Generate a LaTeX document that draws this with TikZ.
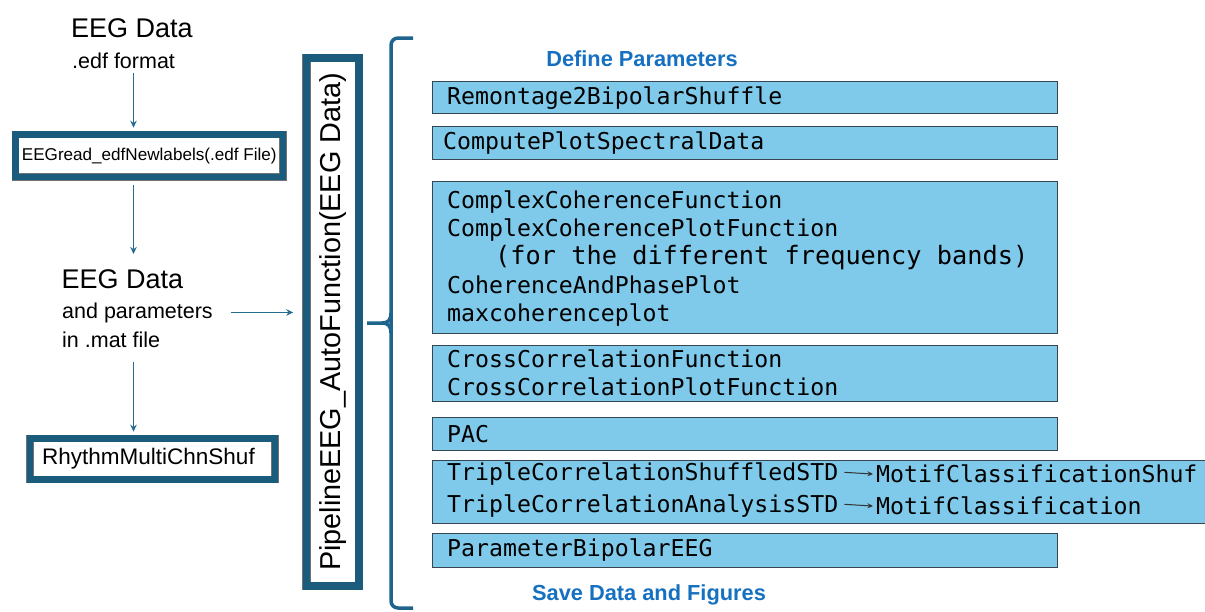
\documentclass[tikz,border=0pt]{standalone}
\usepackage{fontspec}
\setmainfont{Liberation Sans}
\newfontfamily\codefont{DejaVu Sans Mono}
\usetikzlibrary{arrows.meta}

\definecolor{frame}{RGB}{27,91,123}
\definecolor{link}{RGB}{38,108,143}
\definecolor{bracec}{RGB}{30,100,140}
\definecolor{stepfill}{RGB}{127,201,234}
\definecolor{stepline}{RGB}{55,70,80}
\definecolor{headblue}{RGB}{22,112,192}

\begin{document}
\begin{tikzpicture}[x=1pt,y=-1pt,
  framed/.style={rectangle, draw=black!55, line width=0.6pt, double=frame,
    double distance=6.5pt, fill=white, inner sep=0pt},
  stepbox/.style={rectangle, draw=stepline, line width=1pt, fill=stepfill,
    inner sep=0pt, minimum width=625pt},
  code/.style={font=\codefont\fontsize{23.2}{28.3}\selectfont, anchor=west,
    inner sep=0pt, align=left},
  label/.style={anchor=base west, inner sep=0pt},
  big/.style={font=\fontsize{27}{32}\selectfont},
  small/.style={font=\fontsize{21.5}{26}\selectfont},
  heading/.style={font=\bfseries\fontsize{21.8}{26}\selectfont, text=headblue, inner sep=0pt},
  flow/.style={draw=link, line width=1.5pt, -{Stealth[length=7pt,width=6.5pt]}},
  inarrow/.style={draw=black!80, line width=1pt, -{Stealth[length=5.5pt,width=5pt]},
    shorten <=6pt, shorten >=3pt},
  brace/.style={draw=bracec, line width=3.5pt, rounded corners=7pt}
]
\useasboundingbox (0,0) rectangle (1205,611);

% ---- input chain on the left ----
\node[label, big]   (raw)  at (71,37.5) {EEG Data};
\node[label, small] (fmt)  at (72,68)   {.edf format};
\node[framed, minimum width=267.5pt, minimum height=42.5pt,
      font=\fontsize{17.1}{20}\selectfont] (read) at (149.25,155.75)
      {EEGread\_edfNewlabels(.edf File)};
\node[label, big]   (mat)  at (61.5,288) {EEG Data};
\node[label, small] (par)  at (62,318)   {and parameters};
\node[label, small] (file) at (62,347)   {in .mat file};
\node[framed, minimum width=245pt, minimum height=41pt,
      font=\fontsize{22.5}{26}\selectfont] (rhythm) at (152.5,459)
      {\hspace*{-8pt}RhythmMultiChnShuf};

\coordinate (ax) at (133.5,0);
\draw[flow, shorten <=5pt, shorten >=6.5pt] (fmt.south -| ax) -- (read.north -| ax);
\draw[flow, shorten <=8pt, shorten >=15pt] (read.south -| ax) -- (mat.north -| ax);
\draw[flow, shorten <=15pt, shorten >=6.5pt] (file.south -| ax) -- (rhythm.north -| ax);

% ---- pipeline driver ----
\node[framed, double distance=7.5pt, rotate=90, minimum width=528pt, minimum height=52.5pt,
      font=\fontsize{28.8}{32}\selectfont] (pipe) at (332.75,322)
      {PipelineEEG\_AutoFunction(EEG Data)};
\draw[flow, shorten <=18pt, shorten >=13pt] (par.east) -- (pipe.north |- par.east);

% ---- brace ----
\draw[brace] (413,38) -- (391,38) -- (391,608) -- (413,608);
\draw[draw=bracec, line width=3.5pt] (367,323) -- (382,323)
  .. controls (388,323) and (391,320) .. (391,313);
\draw[draw=bracec, line width=3.5pt] (382,323)
  .. controls (388,323) and (391,326) .. (391,333);

% ---- processing steps ----
\node[heading] (def) at (642,59) {Define Parameters};

\node[stepbox, minimum height=32pt] (b1) at (744.5,97) {};
\node[code] (t1) at (447,98) {Remontage2BipolarShuffle};

\node[stepbox, minimum height=33pt] (b2) at (744.5,142.5) {};
\node[code] (t2) at (443,143) {ComputePlotSpectralData};

\node[stepbox, minimum height=152pt] (b3) at (744.5,257) {};
\node[code] (t3) at (447,258.5) {ComplexCoherenceFunction\\
  ComplexCoherencePlotFunction\\
  \hspace*{48pt}{\fontsize{25.3}{28.3}\selectfont(for the different frequency bands)}\\
  CoherenceAndPhasePlot\\
  maxcoherenceplot};

\node[stepbox, minimum height=56pt] (b4) at (744.5,373) {};
\node[code] (t4) at (447,373) {CrossCorrelationFunction\\CrossCorrelationPlotFunction};

\node[stepbox, minimum height=33pt] (b5) at (744.5,433.5) {};
\node[code] (t5) at (447,434) {PAC};

\node[stepbox, minimum width=778pt, minimum height=63pt] (b6) at (821,491.5) {};
\node[code] (t6a) at (447,474) {TripleCorrelationShuffledSTD};
\node[code] (m6a) at (876,474) {MotifClassificationShuf};
\node[code] (t6b) at (447,506) {TripleCorrelationAnalysisSTD};
\node[code] (m6b) at (876,506) {MotifClassification};
\draw[inarrow] ([yshift=8.5pt]t6a.base east) -- ([yshift=8.5pt]m6a.base west);
\draw[inarrow] ([yshift=8.5pt]t6b.base east) -- ([yshift=8.5pt]m6b.base west);

\node[stepbox, minimum height=34pt] (b7) at (744.5,550) {};
\node[code] (t7) at (447,550) {ParameterBipolarEEG};

\node[heading] (save) at (649,595) {Save Data and Figures};
\end{tikzpicture}
\end{document}
